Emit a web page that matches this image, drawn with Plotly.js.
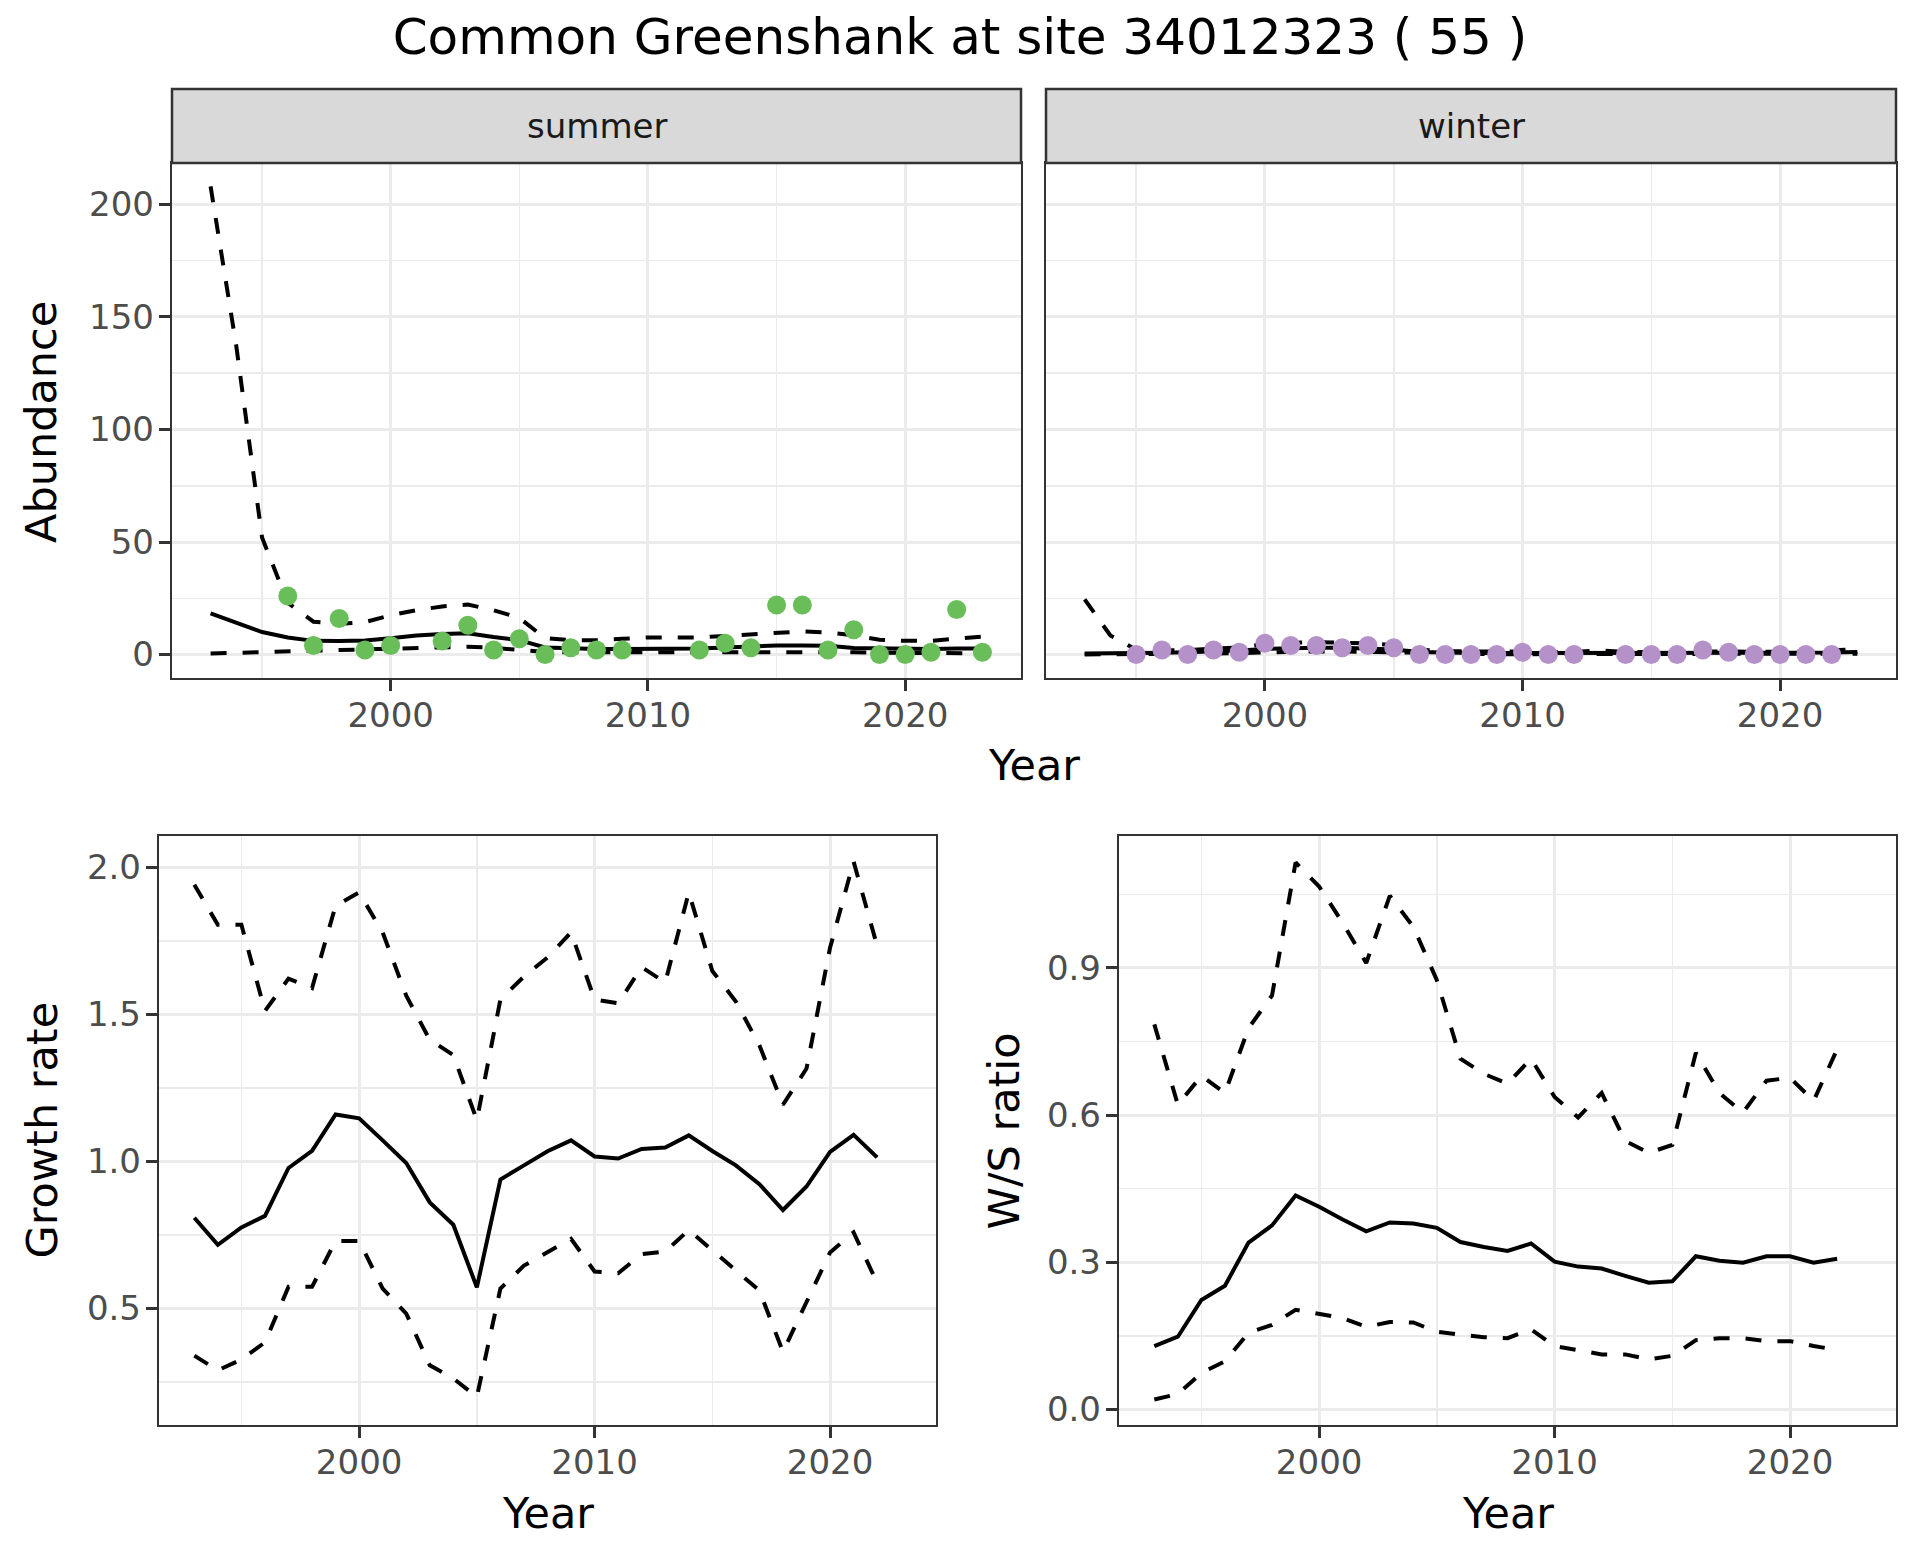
<!DOCTYPE html>
<html>
<head>
<meta charset="utf-8">
<script src="https://cdn.plot.ly/plotly-3.0.1.min.js"></script>
<style>html,body{margin:0;padding:0;background:#fff;}#chart{width:1920px;height:1560px;}</style>
</head>
<body>
<div id="chart"></div>
<script>
// ---------------- data ----------------
const years = [1993,1994,1995,1996,1997,1998,1999,2000,2001,2002,2003,2004,2005,2006,2007,2008,2009,2010,2011,2012,2013,2014,2015,2016,2017,2018,2019,2020,2021,2022,2023];
const ratioYears = [1993,1994,1995,1996,1997,1998,1999,2000,2001,2002,2003,2004,2005,2006,2007,2008,2009,2010,2011,2012,2013,2014,2015,2016,2017,2018,2019,2020,2021,2022];

const summerCounts = [null,null,null,26,4,16,2,4,null,6,13,2,7,0,3,2,2,null,null,2,5,3,22,22,2,11,0,0,1,20,1];
const summerFit    = [18.3,14.2,10.0,7.6,6.1,6.0,6.3,7.3,8.5,9.2,9.5,7.8,6.4,3.2,2.7,2.5,2.5,2.5,2.5,2.7,3.2,3.7,4.0,4.0,3.9,2.9,2.7,2.5,2.5,2.7,2.7];
const summerUpper  = [208,137,52,23,14.6,13.7,14.4,17.5,19.7,21.4,22.2,19.7,16.3,7.3,6.4,6.4,7.0,7.6,7.6,7.6,8.3,9.0,10.0,10.3,9.8,8.6,6.6,6.1,6.1,7.1,8.0];
const summerLower  = [0.5,0.7,1.0,1.3,1.7,2.0,2.3,2.6,3.0,3.3,3.5,3.0,2.3,1.2,1.0,1.0,1.0,1.0,1.0,1.0,1.1,1.2,1.4,1.4,1.3,1.0,0.8,0.7,0.7,0.7,0.6];

const winterCounts = [null,null,0,2,0,2,1,5,4,4,3,4,3,0,0,0,0,1,0,0,null,0,0,0,2,1,0,0,0,0,null];
const winterFit    = [0.5,0.5,0.6,0.8,1.0,1.3,1.8,2.5,2.9,3.0,3.0,2.8,2.3,1.2,0.8,0.7,0.7,0.7,0.6,0.6,0.6,0.6,0.6,0.7,0.8,0.7,0.6,0.6,0.7,0.9,1.2];
const winterUpper  = [24.5,8.5,2.2,1.8,2.0,2.4,3.2,4.6,5.3,5.5,5.4,5.0,4.2,2.2,1.5,1.3,1.3,1.3,1.2,1.2,1.8,1.2,1.2,1.4,1.6,1.4,1.2,1.2,1.4,1.9,2.4];
const winterLower  = [0.05,0.1,0.15,0.2,0.3,0.4,0.6,1.0,1.3,1.4,1.4,1.2,1.0,0.4,0.3,0.2,0.2,0.2,0.2,0.2,0.2,0.2,0.2,0.2,0.3,0.2,0.2,0.2,0.2,0.3,0.4];

const growthMid   = [0.809,0.717,0.776,0.815,0.978,1.036,1.160,1.147,1.072,0.995,0.861,0.785,0.572,0.939,0.987,1.035,1.072,1.017,1.010,1.043,1.048,1.089,1.036,0.987,0.923,0.835,0.915,1.033,1.091,1.014];
const growthUpper = [1.941,1.805,1.805,1.512,1.622,1.590,1.870,1.915,1.779,1.564,1.414,1.362,1.141,1.551,1.629,1.694,1.779,1.551,1.538,1.661,1.609,1.915,1.648,1.544,1.395,1.193,1.316,1.727,2.020,1.733];
const growthLower = [0.340,0.290,0.327,0.385,0.574,0.574,0.730,0.730,0.568,0.483,0.307,0.262,0.200,0.568,0.646,0.691,0.737,0.626,0.620,0.685,0.694,0.767,0.698,0.626,0.561,0.353,0.522,0.691,0.759,0.587];

const wsMid   = [0.129,0.148,0.223,0.252,0.340,0.375,0.436,0.413,0.387,0.363,0.381,0.379,0.370,0.341,0.331,0.323,0.338,0.301,0.291,0.287,0.272,0.258,0.261,0.312,0.303,0.299,0.312,0.312,0.299,0.307];
const wsUpper = [0.785,0.621,0.680,0.645,0.777,0.844,1.115,1.066,0.992,0.910,1.047,0.984,0.875,0.715,0.684,0.664,0.715,0.637,0.595,0.645,0.547,0.523,0.539,0.727,0.645,0.605,0.670,0.676,0.629,0.734];
const wsLower = [0.020,0.031,0.074,0.098,0.156,0.172,0.203,0.194,0.186,0.168,0.178,0.177,0.158,0.152,0.147,0.145,0.163,0.129,0.120,0.112,0.112,0.102,0.109,0.141,0.145,0.145,0.139,0.139,0.129,0.121];

const panelLabels = ['summer','winter'];
const titleText = 'Common Greenshank at site 34012323 ( 55 )';

// ---------------- styling ----------------
const W = 1920, H = 1560;
const FONT = 'DejaVu Sans';
const px = v => v / W;
const py = v => 1 - v / H;
const GREEN = '#69BE5A', PURPLE = '#B491C8';
const LW = 4, DASH = '16px,16px';

function lineTrace(x, y, xa, ya, dashed) {
  return {x, y, xaxis: xa, yaxis: ya, type: 'scatter', mode: 'lines',
    line: {color: '#000000', width: LW, dash: dashed ? DASH : 'solid'},
    hoverinfo: 'skip', showlegend: false, connectgaps: false};
}
function pointTrace(x, y, xa, ya, color) {
  return {x, y, xaxis: xa, yaxis: ya, type: 'scatter', mode: 'markers',
    marker: {color, size: 19, line: {width: 0}},
    hoverinfo: 'skip', showlegend: false, cliponaxis: false};
}

const traces = [
  lineTrace(years, summerFit, 'x', 'y', false),
  lineTrace(years, summerUpper, 'x', 'y', true),
  lineTrace(years, summerLower, 'x', 'y', true),
  pointTrace(years, summerCounts, 'x', 'y', GREEN),
  lineTrace(years, winterFit, 'x2', 'y2', false),
  lineTrace(years, winterUpper, 'x2', 'y2', true),
  lineTrace(years, winterLower, 'x2', 'y2', true),
  pointTrace(years, winterCounts, 'x2', 'y2', PURPLE),
  lineTrace(ratioYears, growthMid, 'x3', 'y3', false),
  lineTrace(ratioYears, growthUpper, 'x3', 'y3', true),
  lineTrace(ratioYears, growthLower, 'x3', 'y3', true),
  lineTrace(ratioYears, wsMid, 'x4', 'y4', false),
  lineTrace(ratioYears, wsUpper, 'x4', 'y4', true),
  lineTrace(ratioYears, wsLower, 'x4', 'y4', true)
];

const tickfont = {family: FONT, size: 34, color: '#4D4D4D'};
function baseAxis() {
  return {ticks: 'outside', ticklen: 11, tickwidth: 3, tickcolor: '#333333',
    showline: true, mirror: true, linecolor: '#333333', linewidth: 2.2,
    showgrid: true, gridcolor: '#EBEBEB', gridwidth: 3, zeroline: false,
    tickfont: tickfont, fixedrange: true, layer: 'above traces'};
}
function xAxis(x0, x1, anchor) {
  return Object.assign(baseAxis(), {domain: [px(x0), px(x1)], anchor,
    range: [1991.5, 2024.5], tick0: 2000, dtick: 10, ticklabelstandoff: -5,
    minor: {tick0: 1995, dtick: 5, showgrid: true, gridcolor: '#EBEBEB', gridwidth: 1.6, ticks: ''}});
}
function yAxis(y0, y1, anchor, range, dtick, minorDtick, fmt, showLabels) {
  const a = Object.assign(baseAxis(), {domain: [py(y1), py(y0)], anchor, range,
    tick0: 0, dtick, tickformat: fmt, ticklabelstandoff: -2,
    minor: {tick0: 0, dtick: minorDtick, showgrid: true, gridcolor: '#EBEBEB', gridwidth: 1.6, ticks: ''}});
  if (!showLabels) { a.showticklabels = false; a.ticks = ''; }
  return a;
}

const layout = {
  width: W, height: H,
  margin: {l: 0, r: 0, t: 0, b: 0},
  paper_bgcolor: '#FFFFFF', plot_bgcolor: '#FFFFFF',
  font: {family: FONT, color: '#000000'},
  title: {text: titleText, x: 0.5, xanchor: 'center', y: py(36), yanchor: 'middle',
    font: {family: FONT, size: 50, color: '#000000'}},
  xaxis:  xAxis(172, 1021, 'y'),
  yaxis:  yAxis(163, 678, 'x', [-10.4, 218.4], 50, 25, '', true),
  xaxis2: xAxis(1046, 1896, 'y2'),
  yaxis2: yAxis(163, 678, 'x2', [-10.4, 218.4], 50, 25, '', false),
  xaxis3: xAxis(159, 936, 'y3'),
  yaxis3: yAxis(836, 1425, 'x3', [0.104, 2.107], 0.5, 0.25, '.1f', true),
  xaxis4: xAxis(1119, 1896, 'y4'),
  yaxis4: yAxis(836, 1425, 'x4', [-0.032, 1.169], 0.3, 0.15, '.1f', true),
  shapes: [
    {type: 'rect', xref: 'paper', yref: 'paper', x0: px(172), x1: px(1021), y0: py(163), y1: py(89),
      fillcolor: '#D9D9D9', line: {color: '#333333', width: 2.5}, layer: 'above'},
    {type: 'rect', xref: 'paper', yref: 'paper', x0: px(1046), x1: px(1896), y0: py(163), y1: py(89),
      fillcolor: '#D9D9D9', line: {color: '#333333', width: 2.5}, layer: 'above'}
  ],
  annotations: [
    {text: panelLabels[0], xref: 'paper', yref: 'paper', x: px(596.5), y: py(126), xanchor: 'center', yanchor: 'middle',
      showarrow: false, font: {family: FONT, size: 34, color: '#1A1A1A'}},
    {text: panelLabels[1], xref: 'paper', yref: 'paper', x: px(1471), y: py(126), xanchor: 'center', yanchor: 'middle',
      showarrow: false, font: {family: FONT, size: 34, color: '#1A1A1A'}},
    {text: 'Year', xref: 'paper', yref: 'paper', x: px(1034), y: py(765), xanchor: 'center', yanchor: 'middle',
      showarrow: false, font: {family: FONT, size: 43, color: '#000000'}},
    {text: 'Year', xref: 'paper', yref: 'paper', x: px(547.5), y: py(1513), xanchor: 'center', yanchor: 'middle',
      showarrow: false, font: {family: FONT, size: 43, color: '#000000'}},
    {text: 'Year', xref: 'paper', yref: 'paper', x: px(1507.5), y: py(1513), xanchor: 'center', yanchor: 'middle',
      showarrow: false, font: {family: FONT, size: 43, color: '#000000'}},
    {text: 'Abundance', xref: 'paper', yref: 'paper', x: px(41), y: py(422), xanchor: 'center', yanchor: 'middle',
      textangle: -90, showarrow: false, font: {family: FONT, size: 43, color: '#000000'}},
    {text: 'Growth rate', xref: 'paper', yref: 'paper', x: px(41), y: py(1130.5), xanchor: 'center', yanchor: 'middle',
      textangle: -90, showarrow: false, font: {family: FONT, size: 43, color: '#000000'}},
    {text: 'W/S ratio', xref: 'paper', yref: 'paper', x: px(1003), y: py(1130.5), xanchor: 'center', yanchor: 'middle',
      textangle: -90, showarrow: false, font: {family: FONT, size: 43, color: '#000000'}}
  ]
};

Plotly.newPlot('chart', traces, layout, {displayModeBar: false, staticPlot: true});
</script>
</body>
</html>
